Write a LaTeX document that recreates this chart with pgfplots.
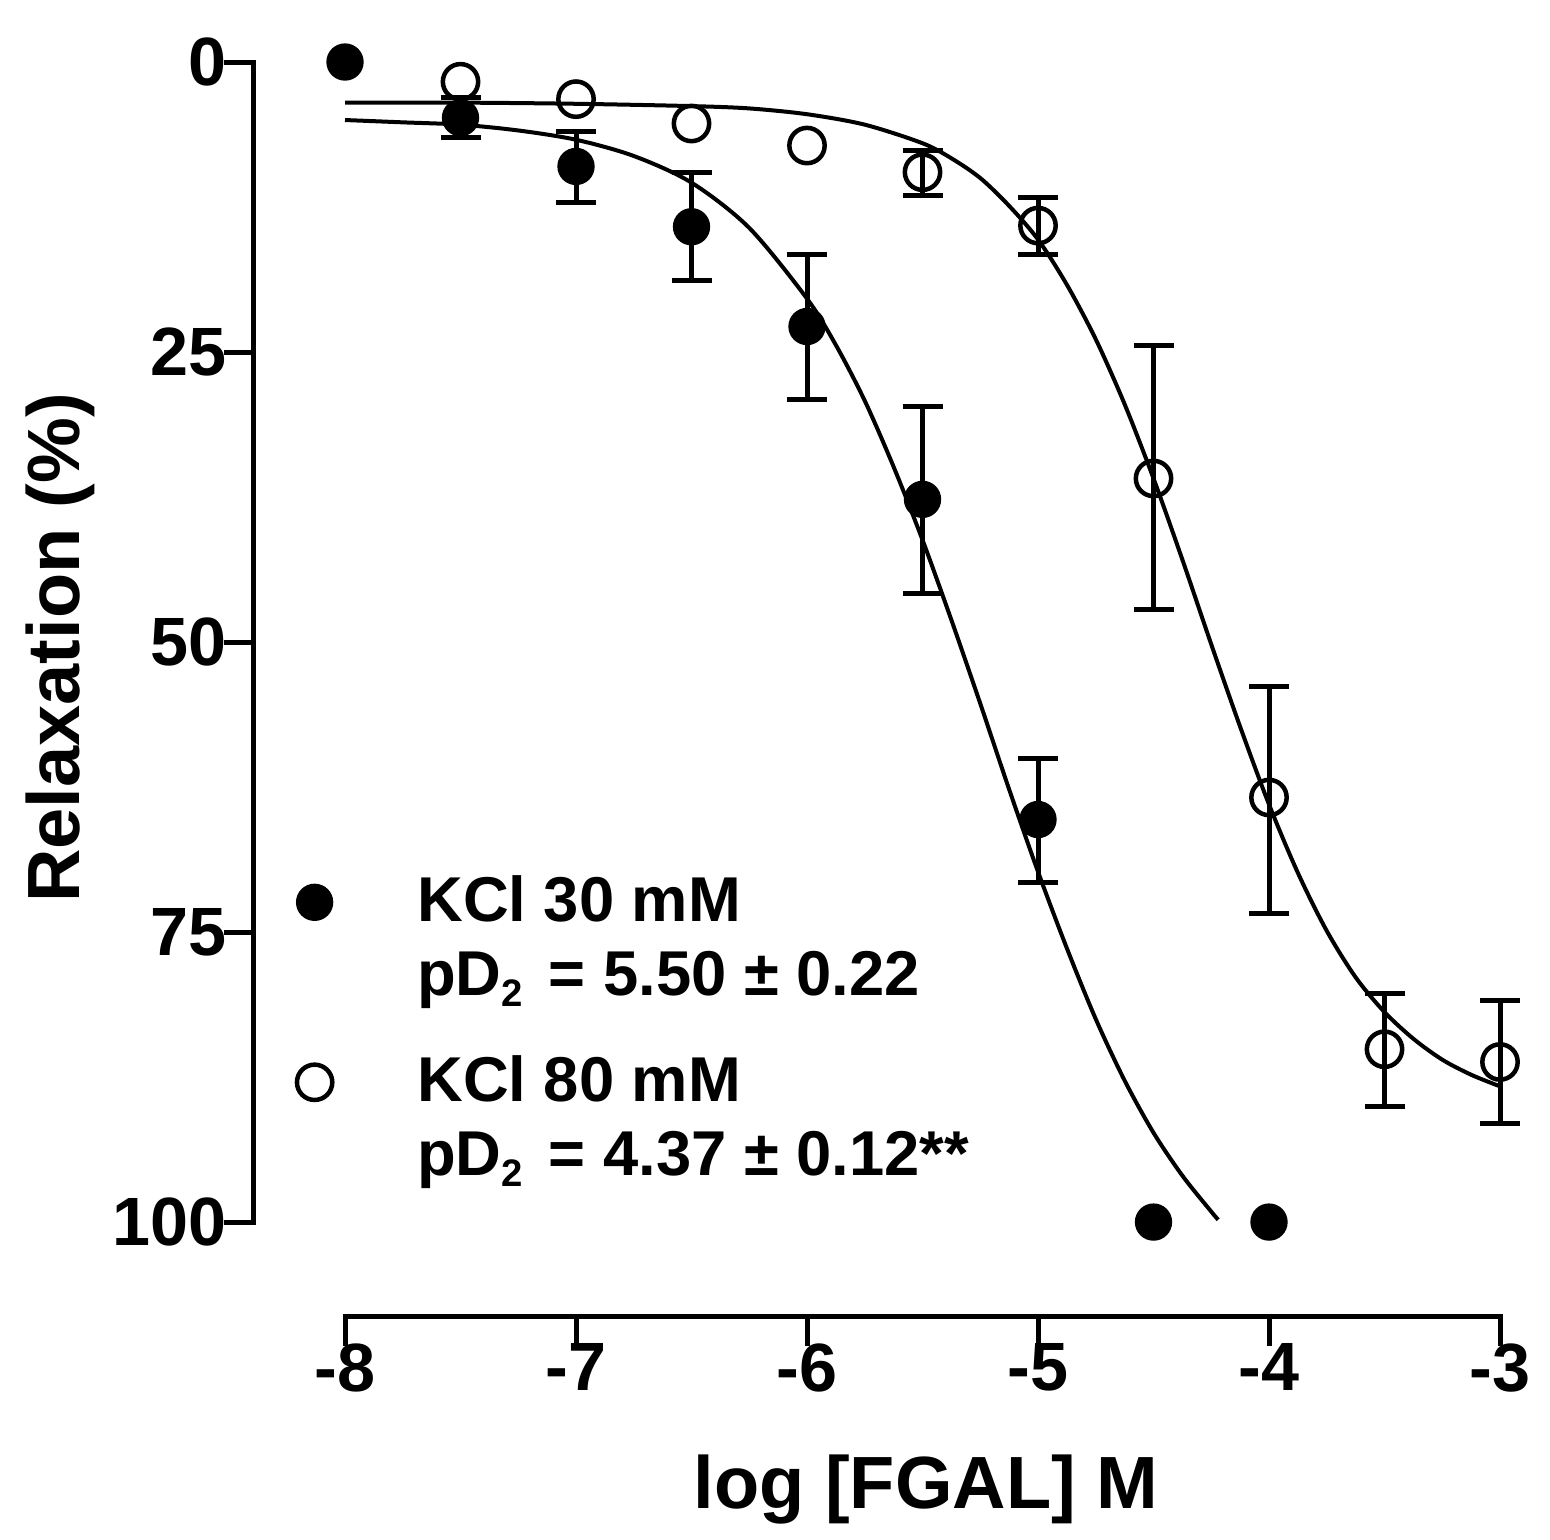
\documentclass[border=0pt]{standalone}
\usepackage{fontspec}
\setmainfont{Liberation Sans}
\usepackage{pgfplots}
\usepackage{pgfplotstable}
\pgfplotsset{compat=1.18}

% KCl 30 mM: means
\pgfplotstableread{
x y
-8.0 0.0
-7.5 4.8
-7.0 9.0
-6.5 14.2
-6.0 22.8
-5.5 37.7
-5.0 65.3
-4.5 100.0
-4.0 100.0
}\kcllow
% KCl 30 mM: points with SEM
\pgfplotstableread{
x y ep em
-7.5 4.8 1.7 1.7
-7.0 9.0 3.1 3.0
-6.5 14.2 4.6 4.7
-6.0 22.8 6.3 6.2
-5.5 37.7 8.1 8.0
-5.0 65.3 5.4 5.3
}\kcllowerr

% KCl 80 mM: means
\pgfplotstableread{
x y
-7.5 1.7
-7.0 3.2
-6.5 5.3
-6.0 7.2
-5.5 9.5
-5.0 14.1
-4.5 35.9
-4.0 63.4
-3.5 85.1
-3.0 86.2
}\kclhigh
% KCl 80 mM: points with SEM
\pgfplotstableread{
x y ep em
-5.5 9.5 2.0 1.9
-5.0 14.1 2.5 2.4
-4.5 35.9 11.3 11.5
-4.0 63.4 10.0 9.6
-3.5 85.1 4.9 4.8
-3.0 86.2 5.3 5.3
}\kclhigherr

% fitted curves
\pgfplotstableread{
x y
-8.000 5.0
-7.750 5.2
-7.500 5.4
-7.250 5.9
-7.000 6.7
-6.750 8.1
-6.500 10.4
-6.250 14.3
-6.000 20.4
-5.875 24.4
-5.750 29.2
-5.625 34.9
-5.500 41.2
-5.375 48.1
-5.250 55.3
-5.125 62.7
-5.000 69.8
-4.875 76.4
-4.750 82.5
-4.625 87.8
-4.500 92.3
-4.375 96.0
-4.250 99.1
-4.220 99.8
}\fitlow

\pgfplotstableread{
x y
-8.000 3.5
-7.500 3.5
-7.000 3.6
-6.500 3.8
-6.250 4.0
-6.000 4.5
-5.750 5.4
-5.500 7.0
-5.375 8.3
-5.250 10.0
-5.125 12.4
-5.000 15.3
-4.875 19.2
-4.750 23.9
-4.625 29.5
-4.500 35.9
-4.375 42.9
-4.250 50.2
-4.125 57.3
-4.000 64.0
-3.875 69.9
-3.750 74.9
-3.625 78.9
-3.500 81.9
-3.375 84.2
-3.250 86.0
-3.125 87.3
-3.000 88.3
}\fithigh

\newcommand{\pDtwo}{pD\raisebox{-3.3pt}{\fontsize{11.5pt}{12pt}\selectfont 2}\kern2.5pt}

\begin{document}
\begin{tikzpicture}
\begin{axis}[
  at={(0,0)}, anchor=south west,
  scale only axis, width=373.8pt, height=376.2pt,
  xmin=-8.394, xmax=-3, ymin=0, ymax=108.1, y dir=reverse,
  clip=false,
  axis x line*=bottom, axis y line*=left, axis line style={draw=none},
  xtick={-8,-7,-6,-5,-4,-3}, xticklabels={-8,-7,-6,-5,-4,-3},
  ytick={0,25,50,75,100}, yticklabels={0,25,50,75,100},
  minor tick num=0,
  tick align=outside, major tick length=8.1pt,
  every tick/.style={black, line width=1.5pt, line cap=rect},
  tick label style={font=\fontsize{20.5pt}{24pt}\selectfont\bfseries, inner sep=0pt},
  xlabel={log [FGAL] M}, ylabel={Relaxation (\%)},
  label style={font=\fontsize{22.2pt}{26pt}\selectfont\bfseries, inner sep=0pt},
  xlabel style={at={(axis cs:-5.485,124.66)}, anchor=base},
  ylabel style={at={(axis cs:-9.234,50.5)}, anchor=center},
  legend style={draw=none, fill=none, inner sep=0pt, outer sep=0pt,
    at={(axis cs:-8.208,69.82)}, anchor=north west,
    row sep=0pt, column sep=25.5pt,
    font=\fontsize{19pt}{22.2pt}\selectfont\bfseries,
    nodes={inner sep=0pt, outer sep=0pt, text height=15pt, text depth=7.2pt}},
  legend cell align=left,
  legend image code/.code={\draw[#1] plot coordinates {(0pt,2.0pt)};},
]
\addplot[forget plot, smooth, black, line width=1.2pt, mark=none] table[x=x, y=y] {\fitlow};
\addplot[forget plot, smooth, black, line width=1.2pt, mark=none] table[x=x, y=y] {\fithigh};

\addplot[forget plot, draw=none, mark=none,
  error bars/.cd, y dir=both, y explicit,
  error bar style={line width=1.5pt, black},
  error mark options={rotate=90, mark size=6pt, line width=1.5pt, black}]
  table[x=x, y=y, y error plus=ep, y error minus=em] {\kcllowerr};
\addplot[forget plot, draw=none, mark=none,
  error bars/.cd, y dir=both, y explicit,
  error bar style={line width=1.5pt, black},
  error mark options={rotate=90, mark size=6pt, line width=1.5pt, black}]
  table[x=x, y=y, y error plus=ep, y error minus=em] {\kclhigherr};

\addplot[only marks, mark=*, mark size=5.3pt, mark options={fill=black, draw=black, line width=0.6pt}]
  table[x=x, y=y] {\kcllow};
\addlegendentry{KCl 30 mM}
\addlegendimage{empty legend}
\addlegendentry[text depth=16.8pt]{\pDtwo{} = 5.50 ± 0.22}
\addplot[only marks, mark=o, mark size=5.3pt, mark options={draw=black, fill=none, line width=1.35pt}]
  table[x=x, y=y] {\kclhigh};
\addlegendentry{KCl 80 mM}
\addlegendimage{empty legend}
\addlegendentry[text depth=16.8pt]{\pDtwo{} = 4.37 ± 0.12**}

\draw[line width=1.5pt, line cap=rect] (axis cs:-8.394,0) -- (axis cs:-8.394,100);
\draw[line width=1.5pt, line cap=rect] (axis cs:-8,108.1) -- (axis cs:-3,108.1);
\end{axis}
\pgfresetboundingbox
\path (-76.2pt,-66.9pt) rectangle (388.8pt,394.8pt);
\end{tikzpicture}
\end{document}
